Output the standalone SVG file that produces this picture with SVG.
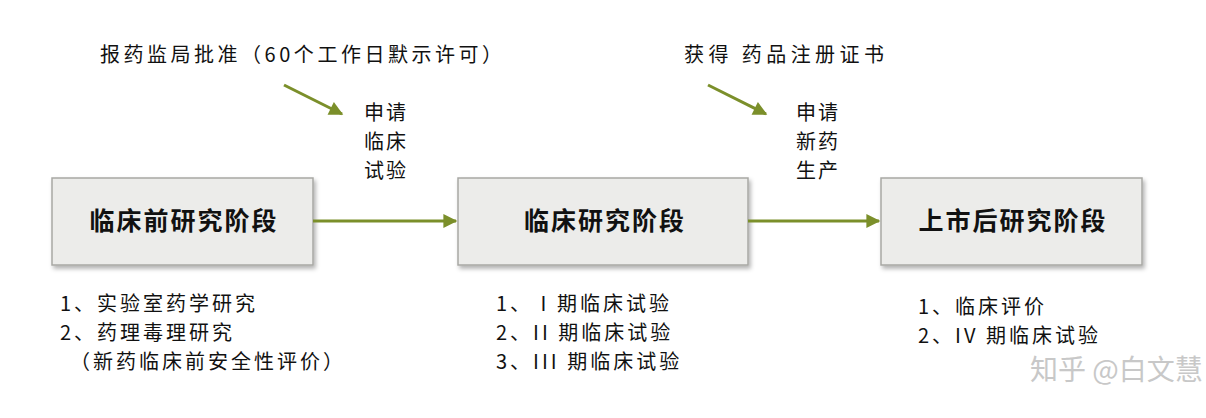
<svg xmlns="http://www.w3.org/2000/svg" width="1206" height="418" viewBox="0 0 1206 418">
<defs>
<marker id="ah2" viewBox="0 0 10 10" refX="9" refY="5" markerWidth="16" markerHeight="14" orient="auto" markerUnits="userSpaceOnUse"><path d="M0,0 L10,5 L0,10 z" fill="#7b8f2a"/></marker>
<filter id="sh" x="-5%" y="-5%" width="115%" height="120%"><feDropShadow dx="2" dy="3" stdDeviation="2" flood-color="#000" flood-opacity="0.3"/></filter>
</defs>
<style>
text{font-family:"Noto Sans CJK SC","Noto Sans",sans-serif;fill:#111}
.box{fill:#ececea;stroke:#a8a8a4;stroke-width:1.5;filter:url(#sh)}
.bt{font-size:25px;font-weight:bold;text-anchor:middle;letter-spacing:2px}
.t{font-size:20px;letter-spacing:3px}
.c{font-size:20px;text-anchor:middle;letter-spacing:2px}
.ln{stroke:#7b8f2a;stroke-width:3;fill:none}
</style>
<rect width="1206" height="418" fill="#fff"/>
<g id="n1"><rect class="box" x="52" y="178" width="261" height="87"/><text class="bt" x="184" y="230">临床前研究阶段</text></g>
<g id="n2"><rect class="box" x="458" y="178" width="290" height="87"/><text class="bt" x="605" y="230">临床研究阶段</text></g>
<g id="n3"><rect class="box" x="881" y="178" width="261" height="87"/><text class="bt" x="1013" y="230">上市后研究阶段</text></g>
<g id="connectors">
<line class="ln" x1="313" y1="221" x2="456" y2="221" marker-end="url(#ah2)"/>
<line class="ln" x1="748" y1="221" x2="879" y2="221" marker-end="url(#ah2)"/>
<line class="ln" x1="284" y1="85" x2="342" y2="114" marker-end="url(#ah2)"/>
<line class="ln" x1="708" y1="85" x2="766" y2="114" marker-end="url(#ah2)"/>
</g>
<text class="t" x="100" y="62" textLength="405">报药监局批准（60个工作日默示许可）</text>
<text class="t" x="684" y="62" textLength="203">获得  药品注册证书</text>
<text class="c" x="386" y="120">申请</text><text class="c" x="386" y="149">临床</text><text class="c" x="386" y="178">试验</text>
<text class="c" x="818" y="120">申请</text><text class="c" x="818" y="149">新药</text><text class="c" x="818" y="178">生产</text>
<text class="t" x="60" y="311">1、实验室药学研究</text>
<text class="t" x="60" y="340">2、药理毒理研究</text>
<text class="t" x="70" y="369">（新药临床前安全性评价）</text>
<text class="t" x="496" y="311">1、 I 期临床试验</text>
<text class="t" x="496" y="340">2、II 期临床试验</text>
<text class="t" x="496" y="369">3、III 期临床试验</text>
<text class="t" x="918" y="314">1、临床评价</text>
<text class="t" x="918" y="343">2、IV 期临床试验</text>
<text x="1030" y="380" style="font-size:28px;fill:#c8c8c8">知乎 @白文慧</text>
</svg>
